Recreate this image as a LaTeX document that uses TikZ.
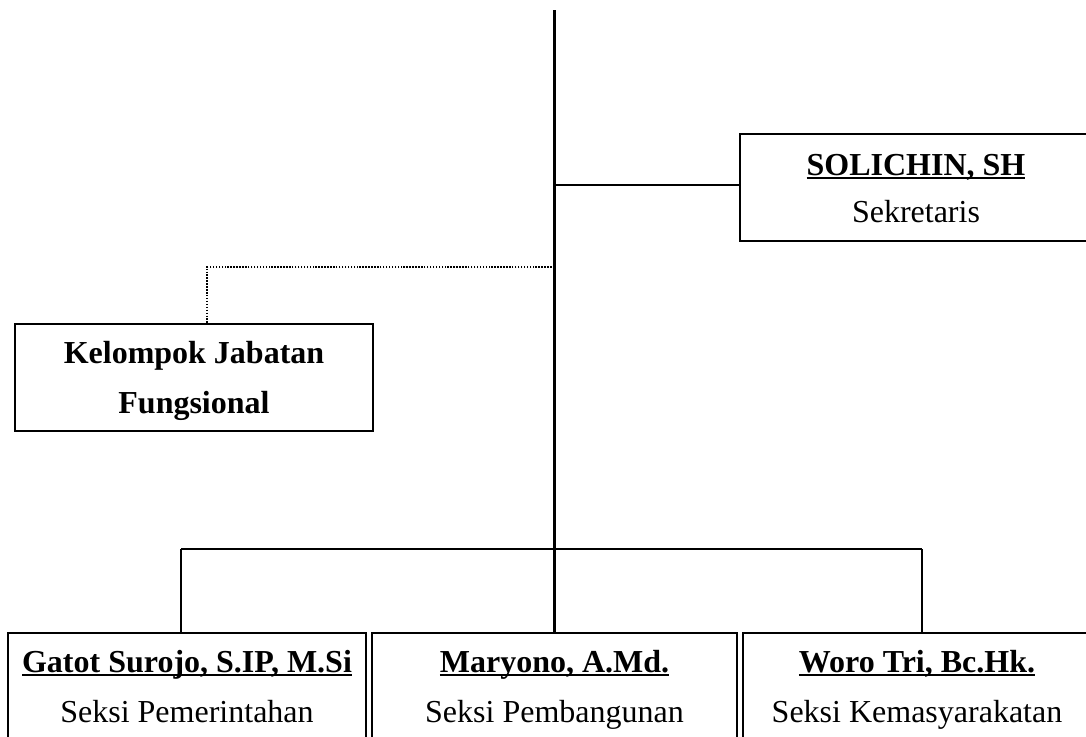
\documentclass[tikz,border=0pt]{standalone}
\usepackage{fontspec}
\setmainfont{Liberation Serif}
\newcommand\myul[1]{\setbox0=\hbox{#1}\rlap{\rule[-3.2pt]{\wd0}{1.6pt}}\box0}
\tikzset{
  boxst/.style={draw, line width=1.7pt, rectangle, inner sep=0pt},
  linkst/.style={line width=1.6pt},
  dotst/.style={line width=1.4pt, dash pattern=on 1.1pt off 1.1pt},
  namest/.style={anchor=base, inner sep=0pt, font=\fontsize{24pt}{30pt}\selectfont\bfseries},
  rolest/.style={anchor=base, inner sep=0pt, font=\fontsize{24pt}{30pt}\selectfont},
}
\begin{document}
\begin{tikzpicture}[x=0.75pt, y=-0.75pt]
\clip (0,0) rectangle (1086,736);
\fill[white] (0,0) rectangle (1086,736);

% boxes
\node[boxst, minimum width=352*0.75pt, minimum height=107*0.75pt] (sol) at (916,187.5) {};
\node[boxst, minimum width=358*0.75pt, minimum height=107*0.75pt] (kel) at (194,377.5) {};
\node[boxst, minimum width=358*0.75pt, minimum height=137*0.75pt] (g) at (187,701.5) {};
\node[boxst, minimum width=365*0.75pt, minimum height=137*0.75pt] (m) at (554.5,701.5) {};
\node[boxst, minimum width=352*0.75pt, minimum height=137*0.75pt] (w) at (919,701.5) {};

% texts
\node[namest] (soln) at (916,175) {\myul{SOLICHIN, SH}};
\node[rolest] (solr) at (916,222) {Sekretaris};
\node[namest] (kel1) at (194,363) {Kelompok Jabatan};
\node[namest] (kel2) at (194,413) {Fungsional};
\node[namest] (gn) at (187,672) {\myul{Gatot Surojo, S.IP, M.Si}};
\node[rolest] (gr) at (187,722) {Seksi Pemerintahan};
\node[namest] (mn) at (554.5,672) {\myul{Maryono, A.Md.}};
\node[rolest] (mr) at (554.5,722) {Seksi Pembangunan};
\node[namest] (wn) at (917,672) {\myul{Woro Tri, Bc.Hk.}};
\node[rolest] (wr) at (917,722) {Seksi Kemasyarakatan};

% connector points
\coordinate (top) at (554.5,10);
\coordinate (js) at (554.5,185);
\coordinate (jk) at (554.5,267);
\coordinate (kd) at (207,267);
\coordinate (b1) at (181,549);
\coordinate (b3) at (922,549);

% connectors
\draw[linkst] (top) -- (m.north);
\draw[linkst] (js) -- (js -| sol.west);
\draw[dotst] (jk) -- (kd) -- (kd |- kel.north);
\draw[linkst] (b1) -- (b3);
\draw[linkst] (b1) -- (b1 |- g.north);
\draw[linkst] (b3) -- (b3 |- w.north);
\end{tikzpicture}
\end{document}
